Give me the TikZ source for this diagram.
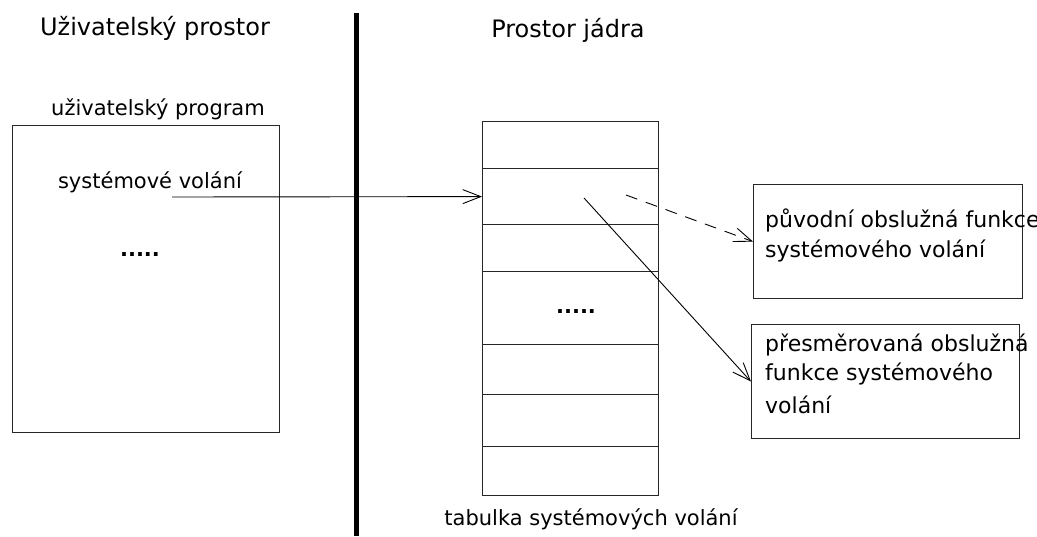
\documentclass[tikz,border=0pt]{standalone}
\usepackage{fontspec}
\setmainfont{DejaVu Sans}
\usetikzlibrary{arrows.meta}
\begin{document}
\begin{tikzpicture}[x=1pt,y=-1pt,
  box/.style={draw=black!85,line width=1.2pt,minimum width=#1,inner sep=0pt,anchor=north west},
  lbl/.style={font=\fontsize{21}{29}\selectfont,inner sep=0pt,anchor=base},
  ttl/.style={font=\fontsize{24}{30}\selectfont,inner sep=0pt,anchor=base},
  dots/.style={font=\bfseries\fontsize{21}{25}\selectfont,inner sep=0pt},
  conn/.style={line width=0.9pt,-{Straight Barb[length=18pt,width=14pt,line width=0.9pt]}}
]
\useasboundingbox (0,0) rectangle (1037,536);
% titles
\node[ttl] (ut) at (155,35) {Uživatelský prostor};
\node[ttl] (kt) at (568,37) {Prostor jádra};
% divider
\coordinate (dtop) at (356.5,13);
\coordinate (dbot) at (356.5,536);
\draw[line width=4.5pt] (dtop) -- (dbot);
% user program
\node[lbl] (upl) at (158,115) {uživatelský program};
\node[box=267pt,minimum height=307pt] (up) at (12,125) {};
\node[lbl] (sv) at (150,188) {systémové volání};
\node[dots] (ud) at (140,255) {.....};
\coordinate (svs) at (172,197);
% table rows
\node[box=176pt,minimum height=47pt] (r1) at (482,121) {};
\node[box=176pt,minimum height=56pt] (r2) at (482,168) {};
\node[box=176pt,minimum height=47pt] (r3) at (482,224) {};
\node[box=176pt,minimum height=73pt] (r4) at (482,271) {};
\node[box=176pt,minimum height=50pt] (r5) at (482,344) {};
\node[box=176pt,minimum height=52pt] (r6) at (482,394) {};
\node[box=176pt,minimum height=49pt] (r7) at (482,446) {};
\node[dots] (td) at (576,312) {.....};
\node[lbl] (tl) at (591,525) {tabulka systémových volání};
% handler boxes
\node[box=269pt,minimum height=114pt] (h1) at (753,184) {};
\node[font=\fontsize{22}{30}\selectfont,inner sep=0pt,align=left,anchor=north west] (h1t) at (765,209)
  {původní obslužná funkce\\systémového volání};
\node[box=268pt,minimum height=114pt] (h2) at (751,324) {};
\node[font=\fontsize{22}{29}\selectfont,inner sep=0pt,align=left,anchor=north west] (h2t) at (765,334)
  {přesměrovaná obslužná\\funkce systémového\\[4pt]volání};
% connectors
\coordinate (s1) at (584,198);
\coordinate (s2) at (626,195);
\draw[conn] (svs) -- (r2.west);
\draw[conn] (s1) -- (h2.west);
\draw[conn,dash pattern=on 12pt off 9pt] (s2) -- (h1.west);
\end{tikzpicture}
\end{document}
